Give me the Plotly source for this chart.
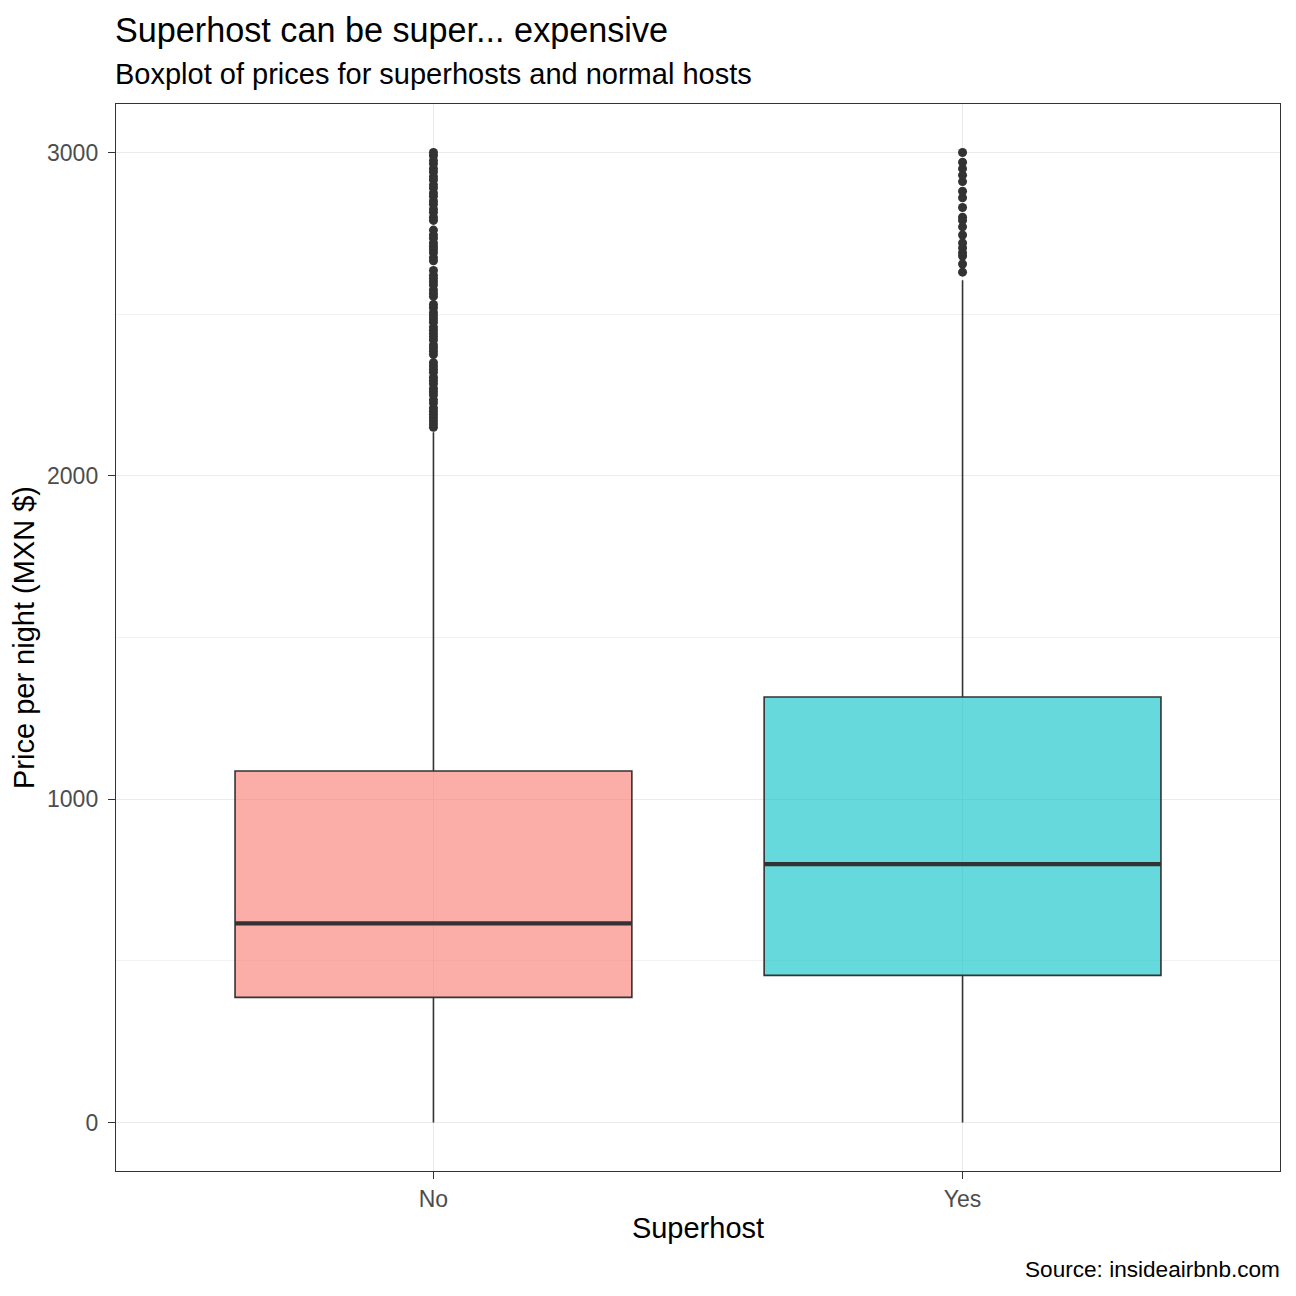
import plotly.graph_objects as go

# superhost categories and boxplot summary stats (MXN $ per night)
hosts = ["No", "Yes"]
q1 = [387, 455]
medians = [616, 799]
q3 = [1087, 1316]
lower_fence = [0, 0]
upper_fence = [2135, 2605]

outliers_no = [2150, 2160, 2170, 2180, 2190, 2200, 2210, 2225, 2235, 2250, 2260, 2270,
               2285, 2295, 2305, 2320, 2330, 2340, 2350, 2375, 2385, 2395, 2405, 2420,
               2430, 2440, 2450, 2460, 2475, 2485, 2495, 2505, 2520, 2530, 2555, 2565,
               2575, 2590, 2600, 2610, 2620, 2635, 2665, 2675, 2690, 2700, 2710, 2720,
               2735, 2745, 2760, 2790, 2800, 2815, 2825, 2840, 2850, 2865, 2875, 2890,
               2900, 2915, 2925, 2940, 2950, 2965, 2975, 2990, 3000]
outliers_yes = [2630, 2655, 2680, 2690, 2705, 2720, 2745, 2770, 2790, 2800, 2830, 2860,
                2880, 2910, 2930, 2950, 2970, 3000]

fills = ["rgba(248,118,109,0.6)", "rgba(0,191,196,0.6)"]
box_w = 0.75
font = "Liberation Sans, Arial, sans-serif"

fig = go.Figure()

outliers = [outliers_no, outliers_yes]
for i, h in enumerate(hosts):
    pos = i + 1
    fig.add_trace(go.Box(
        x=[pos], q1=[q1[i]], median=[medians[i]], q3=[q3[i]],
        lowerfence=[lower_fence[i]], upperfence=[upper_fence[i]],
        width=box_w, whiskerwidth=0, fillcolor=fills[i],
        line=dict(color="#333333", width=1.6), name=h, showlegend=False,
        hoverinfo="skip"))
    # thicker median line like ggplot
    fig.add_trace(go.Scatter(
        x=[pos - box_w / 2, pos + box_w / 2], y=[medians[i], medians[i]],
        mode="lines", line=dict(color="#333333", width=4.3),
        showlegend=False, hoverinfo="skip"))
    fig.add_trace(go.Scatter(
        x=[pos] * len(outliers[i]), y=outliers[i], mode="markers",
        marker=dict(color="#333333", size=9, line=dict(width=0)),
        showlegend=False))

# page body has an 8px margin, so the figure is 8px smaller than the window
fig.update_layout(
    width=1288, height=1288,
    plot_bgcolor="white", paper_bgcolor="white",
    margin=dict(l=108, r=16, t=96, b=125),
    font=dict(family=font, color="black"),
    xaxis=dict(
        range=[0.4, 2.6], tickvals=[1, 2], ticktext=hosts,
        showgrid=True, gridcolor="#EBEBEB", gridwidth=1.3, zeroline=False,
        showline=True, mirror=True, linecolor="#333333", linewidth=1.4,
        ticks="outside", ticklen=7, tickcolor="#333333", tickwidth=1.4,
        tickfont=dict(size=23, color="#4D4D4D"),
        title=dict(text="Superhost", font=dict(size=29, color="black"), standoff=6),
    ),
    yaxis=dict(
        range=[-150, 3150], tickvals=[0, 1000, 2000, 3000],
        showgrid=True, gridcolor="#EBEBEB", gridwidth=1.3, zeroline=False,
        showline=True, mirror=True, linecolor="#333333", linewidth=1.4,
        ticks="outside", ticklen=7, tickcolor="#333333", tickwidth=1.4,
        ticklabelstandoff=5,
        tickfont=dict(size=23, color="#4D4D4D"),
        minor=dict(tickvals=[500, 1500, 2500], showgrid=True,
                   gridcolor="#F2F2F2", gridwidth=0.8, ticks=""),
        title=dict(text="Price per night (MXN $)", font=dict(size=29, color="black"),
                   standoff=6),
    ),
)

fig.add_annotation(text="Superhost can be super... expensive", xref="paper", yref="paper",
                   x=0, y=1, xanchor="left", yanchor="middle", xshift=-3, yshift=74,
                   showarrow=False, font=dict(size=34.2, color="black"))
fig.add_annotation(text="Boxplot of prices for superhosts and normal hosts",
                   xref="paper", yref="paper", x=0, y=1, xanchor="left",
                   yanchor="middle", xshift=-3, yshift=30, showarrow=False,
                   font=dict(size=29, color="black"))
fig.add_annotation(text="Source: insideairbnb.com", xref="paper", yref="paper",
                   x=1, y=0, xanchor="right", yanchor="middle", xshift=2, yshift=-98,
                   showarrow=False, font=dict(size=22.6, color="black"))

fig.write_html("out.html")
